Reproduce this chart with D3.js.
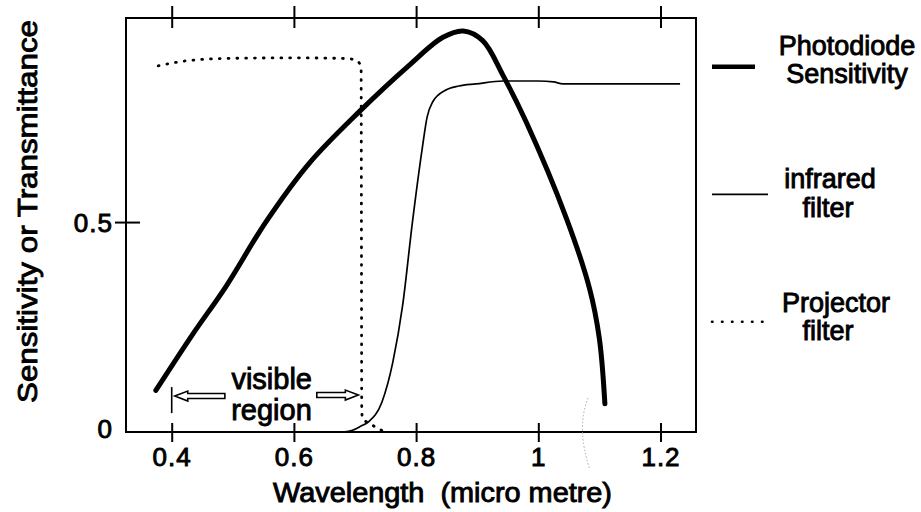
<!DOCTYPE html>
<html>
<head>
<meta charset="utf-8">
<script src="https://cdn.jsdelivr.net/npm/d3@7"></script>
<style>
  html, body { margin: 0; padding: 0; background: #fff; }
  svg text {
    font-family: "Liberation Sans", Arial, Helvetica, sans-serif;
    fill: #000;
    stroke: #000;
    stroke-width: 0.9px;
    white-space: pre;
  }
</style>
</head>
<body>
<svg id="chart" width="921" height="512"></svg>
<script>
// Axis ticks
const xTicks = [0.4, 0.6, 0.8, 1.0, 1.2];
const yTicks = [0, 0.5];

// Photodiode sensitivity (relative) against wavelength in micro metre
const photodiodeWavelength  = [0.374, 0.434, 0.489, 0.554, 0.625, 0.707, 0.789, 0.844, 0.877, 0.909, 0.942, 0.980, 1.046, 1.084, 1.100, 1.109];
const photodiodeSensitivity = [0.099, 0.232, 0.347, 0.500, 0.640, 0.763, 0.874, 0.940, 0.955, 0.932, 0.850, 0.739, 0.509, 0.341, 0.222, 0.067];

// Infrared filter transmittance
const infraredWavelength    = [0.680, 0.696, 0.710, 0.722, 0.744, 0.762, 0.778, 0.794, 0.810, 0.818, 0.827, 0.848, 0.870, 0.898, 0.942, 1.000, 1.025, 1.040, 1.232];
const infraredTransmittance = [0.000, 0.004, 0.014, 0.024, 0.071, 0.167, 0.302, 0.500, 0.675, 0.750, 0.786, 0.814, 0.824, 0.829, 0.836, 0.836, 0.834, 0.829, 0.829];

// Projector filter transmittance
const projectorWavelength    = [0.378, 0.430, 0.500, 0.600, 0.670, 0.696, 0.705, 0.710, 0.7105, 0.711, 0.712, 0.722, 0.749];
const projectorTransmittance = [0.872, 0.885, 0.890, 0.891, 0.890, 0.888, 0.882, 0.868, 0.500, 0.060, 0.032, 0.022, 0.000];

// Limits of the visible region (micro metre)
const visibleRegion = [0.4, 0.7];

// Legend entries
const legendLabels = [["Photodiode", "Sensitivity"], ["infrared", "filter"], ["Projector", "filter"]];

const svg = d3.select("#chart");

const x = d3.scaleLinear().domain([0.3252, 1.2581]).range([126, 696]);
const y = d3.scaleLinear().domain([0, 0.986]).range([432, 18]);

const toPoints = (ws, vs) => ws.map((w, i) => [w, vs[i]]);
const lineFor = curve => d3.line()
  .x(d => x(d[0]))
  .y(d => y(d[1]))
  .curve(curve);
const filterLine = lineFor(d3.curveMonotoneX);
const sensitivityLine = lineFor(d3.curveCatmullRom.alpha(0.5));

// Plot frame
svg.append("rect")
  .attr("x", x.range()[0]).attr("y", y.range()[1])
  .attr("width", x.range()[1] - x.range()[0])
  .attr("height", y.range()[0] - y.range()[1])
  .attr("fill", "none").attr("stroke", "#000").attr("stroke-width", 2);

// Bottom axis
const gx = svg.append("g")
  .attr("transform", `translate(0,${y(0)})`)
  .call(d3.axisBottom(x).tickValues(xTicks).tickFormat(d3.format("~g")).tickSize(0));
gx.select(".domain").remove();
gx.selectAll(".tick line").attr("y1", -9).attr("y2", 10).attr("stroke", "#000").attr("stroke-width", 2);
gx.selectAll(".tick text")
  .attr("y", 34).attr("dy", null)
  .style("font-size", "26px").style("letter-spacing", "1px");

// Top axis, ticks only
const gt = svg.append("g")
  .attr("transform", `translate(0,${y.range()[1]})`)
  .call(d3.axisTop(x).tickValues(xTicks).tickFormat("").tickSize(0));
gt.select(".domain").remove();
gt.selectAll(".tick line").attr("y1", -12).attr("y2", 10).attr("stroke", "#000").attr("stroke-width", 2);

// Left axis
const gy = svg.append("g")
  .attr("transform", `translate(${x.range()[0]},0)`)
  .call(d3.axisLeft(y).tickValues(yTicks).tickFormat(d3.format("~g")).tickSize(0));
gy.select(".domain").remove();
gy.selectAll(".tick line")
  .attr("x1", d => d === 0 ? 0 : -11)
  .attr("x2", d => d === 0 ? 0 : 14)
  .attr("stroke", "#000").attr("stroke-width", 2);
gy.selectAll(".tick text")
  .attr("x", -13).attr("dy", d => d === 0 ? "0.2em" : "0.35em")
  .style("font-size", "26px").style("letter-spacing", "1px");

// Axis titles
svg.append("text")
  .attr("x", 442.5).attr("y", 502)
  .attr("text-anchor", "middle")
  .attr("textLength", 339).attr("lengthAdjust", "spacingAndGlyphs")
  .style("font-size", "27px")
  .text("Wavelength  (micro metre)");

svg.append("text")
  .attr("transform", "translate(37,211.5) rotate(-90)")
  .attr("text-anchor", "middle")
  .attr("textLength", 383).attr("lengthAdjust", "spacingAndGlyphs")
  .style("font-size", "28px")
  .text("Sensitivity or Transmittance");

// Curves
svg.append("path")
  .datum(toPoints(projectorWavelength, projectorTransmittance))
  .attr("d", filterLine)
  .attr("fill", "none").attr("stroke", "#000")
  .attr("stroke-width", 2.8).attr("stroke-linecap", "round")
  .attr("stroke-dasharray", "0.8 8");

svg.append("path")
  .datum(toPoints(infraredWavelength, infraredTransmittance))
  .attr("d", filterLine)
  .attr("fill", "none").attr("stroke", "#000").attr("stroke-width", 1.7);

svg.append("path")
  .datum(toPoints(photodiodeWavelength, photodiodeSensitivity))
  .attr("d", sensitivityLine)
  .attr("fill", "none").attr("stroke", "#000")
  .attr("stroke-width", 5).attr("stroke-linecap", "round").attr("stroke-linejoin", "round");

// Visible region annotation
const annY = y(0.088);
svg.append("line")
  .attr("x1", x(visibleRegion[0])).attr("x2", x(visibleRegion[0]))
  .attr("y1", y(0.107)).attr("y2", y(0.045))
  .attr("stroke", "#000").attr("stroke-width", 1.6);

// hollow block arrow: tip at x0, tail at x1
function hollowArrow(x0, x1, cy) {
  const dir = Math.sign(x1 - x0);
  const head = 13, hh = 5, sh = 2.5;
  const p = d3.path();
  p.moveTo(x0, cy);
  p.lineTo(x0 + dir * head, cy - hh);
  p.lineTo(x0 + dir * head, cy - sh);
  p.lineTo(x1, cy - sh);
  p.lineTo(x1, cy + sh);
  p.lineTo(x0 + dir * head, cy + sh);
  p.lineTo(x0 + dir * head, cy + hh);
  p.closePath();
  svg.append("path").attr("d", p.toString())
    .attr("fill", "#fff").attr("stroke", "#000").attr("stroke-width", 1.6)
    .attr("stroke-linejoin", "miter");
}
hollowArrow(x(0.405), x(0.487), annY + 1);
hollowArrow(x(0.7055), x(0.6375), annY);

svg.append("text")
  .attr("x", 271.7).attr("y", 388.7).attr("text-anchor", "middle")
  .style("font-size", "29px").text("visible");
svg.append("text")
  .attr("x", 271.5).attr("y", 420).attr("text-anchor", "middle")
  .style("font-size", "29px").text("region");

// Faint pencil stroke below the right of the axis
svg.append("path")
  .attr("d", "M588,398 Q576,428 590,470")
  .attr("fill", "none").attr("stroke", "#aaa").attr("stroke-width", 1)
  .attr("stroke-dasharray", "1.5 2");

// Legend
const legendRows = [
  { y: 66.7, text: 55, cx: 847, sample: { x2: 755, width: 4.5, dash: null } },
  { y: 194.3, text: 188.3, cx: 830, sample: { x2: 768, width: 1.7, dash: null } },
  { y: 321.7, text: 311.7, cx: 836, sample: { x2: 763, width: 2.6, dash: "0.5 9.5" } }
];
const lg = svg.append("g");
legendRows.forEach((r, i) => {
  lg.append("line")
    .attr("x1", 712).attr("x2", r.sample.x2)
    .attr("y1", r.y).attr("y2", r.y)
    .attr("stroke", "#000").attr("stroke-width", r.sample.width)
    .attr("stroke-linecap", r.sample.dash ? "round" : "butt")
    .attr("stroke-dasharray", r.sample.dash);
  const [l1, l2] = legendLabels[i];
  lg.append("text").attr("x", r.cx).attr("y", r.text)
    .attr("text-anchor", "middle").style("font-size", "27px").text(l1);
  lg.append("text").attr("x", i === 0 ? r.cx : 828).attr("y", r.text + 28.4)
    .attr("text-anchor", "middle").style("font-size", "27px").text(l2);
});
</script>
</body>
</html>
